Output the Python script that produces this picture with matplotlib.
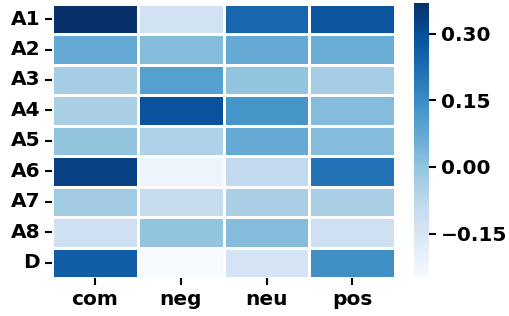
import matplotlib
matplotlib.use("Agg")
import matplotlib.pyplot as plt
import numpy as np
import pandas as pd
import seaborn as sns

rows = ["A1", "A2", "A3", "A4", "A5", "A6", "A7", "A8", "D"]
cols = ["com", "neg", "neu", "pos"]

com = [0.37, 0.07, -0.03, -0.04, 0.00, 0.33, -0.02, -0.12, 0.26]
neg = [-0.13, 0.02, 0.10, 0.29, -0.05, -0.22, -0.10, 0.00, -0.25]
neu = [0.24, 0.07, 0.00, 0.13, 0.07, -0.09, -0.04, 0.02, -0.14]
pos = [0.28, 0.06, -0.03, 0.02, 0.02, 0.21, -0.04, -0.12, 0.14]

df = pd.DataFrame({"com": com, "neg": neg, "neu": neu, "pos": pos}, index=rows)[cols]

plt.rcParams["font.weight"] = "bold"
fig = plt.figure(figsize=(5.1, 3.16), dpi=100)
ax = fig.add_axes([0.102, 0.12, 0.673, 0.868])
cax = fig.add_axes([0.812, 0.12, 0.03, 0.872])

sns.heatmap(df, cmap="Blues", vmin=-0.25, vmax=0.37, linewidths=0.8, linecolor="white",
            ax=ax, cbar_ax=cax, cbar_kws={"ticks": [-0.15, 0.0, 0.15, 0.30]})

ax.tick_params(axis="both", labelsize=14.5, length=5, width=1.5)
ax.set_yticklabels(rows, rotation=0, fontweight="bold")
ax.set_xticklabels(cols, rotation=0, fontweight="bold")
cax.tick_params(labelsize=14.5, length=5, width=1.5)
cax.set_yticklabels(["\u22120.15", "0.00", "0.15", "0.30"], fontweight="bold")
for s in cax.spines.values():
    s.set_visible(False)

fig.savefig("out.png", dpi=100)
